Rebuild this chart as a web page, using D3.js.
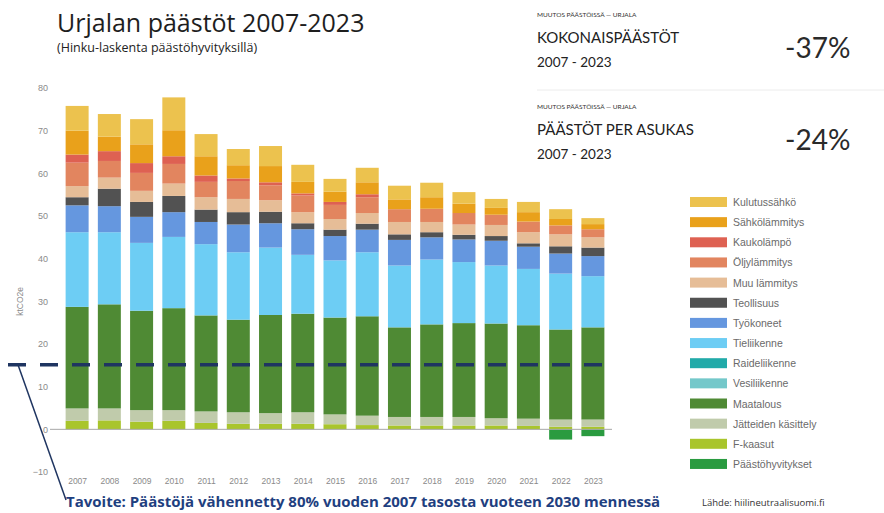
<html>
  <head>
    <meta charset="utf-8">
    <style>
      body { margin: 0; background: #fff; }
      .tick text { fill: #8a8a8a; font-family: "Liberation Sans", Arial, sans-serif; font-size: 9px; }
    </style>
  </head>
  <body>
    <script src="https://cdn.jsdelivr.net/npm/d3@7"></script>
    <script>
    var width = 884, height = 513;

    // data (ktCO2e)
    var years = [2007, 2008, 2009, 2010, 2011, 2012, 2013, 2014, 2015, 2016, 2017, 2018, 2019, 2020, 2021, 2022, 2023];
    var fkaasut      = [2.0, 2.1, 1.8, 2.0, 1.5, 1.3, 1.3, 1.3, 1.2, 1.0, 0.9, 0.9, 0.9, 0.9, 0.8, 0.6, 0.6];
    var jatteet      = [2.9, 2.8, 2.7, 2.5, 2.7, 2.7, 2.5, 2.7, 2.3, 2.2, 2.0, 2.0, 2.0, 1.7, 1.7, 1.7, 1.7];
    var maatalous    = [23.8, 24.4, 23.3, 23.9, 22.5, 21.7, 23.0, 23.1, 22.7, 23.3, 21.0, 21.7, 22.0, 22.2, 21.9, 21.1, 21.6];
    var vesiliikenne = [0, 0, 0, 0, 0, 0, 0, 0, 0, 0, 0, 0, 0, 0, 0, 0, 0];
    var raideliikenne= [0, 0, 0, 0, 0, 0, 0, 0, 0, 0, 0, 0, 0, 0, 0, 0, 0];
    var tieliikenne  = [17.5, 16.9, 15.9, 16.7, 16.7, 15.8, 15.8, 13.8, 13.4, 15.0, 14.5, 15.2, 14.3, 13.6, 13.2, 13.1, 12.0];
    var tyokoneet    = [6.3, 6.1, 6.1, 5.8, 5.2, 6.5, 5.7, 6.0, 5.7, 5.3, 6.0, 5.2, 5.3, 5.8, 5.2, 4.7, 4.7];
    var teollisuus   = [1.9, 4.1, 3.5, 3.8, 2.9, 2.9, 2.7, 1.4, 1.5, 1.4, 1.3, 1.2, 1.1, 1.1, 0.8, 1.7, 2.0];
    var muulammitys  = [2.6, 2.6, 2.6, 2.9, 2.9, 3.1, 2.7, 2.6, 2.5, 2.5, 2.9, 2.4, 2.4, 2.6, 2.6, 2.8, 2.4];
    var oljylammitys = [5.5, 3.9, 4.2, 4.6, 3.6, 4.2, 3.5, 3.9, 3.3, 3.7, 3.0, 3.1, 2.7, 2.4, 2.5, 2.1, 1.9];
    var kaukolampo   = [1.9, 2.3, 2.3, 1.8, 1.5, 0.6, 0.7, 0.5, 0.7, 0.7, 0, 0, 0, 0, 0, 0, 0];
    var sahkolammitys= [5.6, 3.4, 4.4, 6.1, 4.5, 3.1, 3.8, 2.7, 2.4, 2.8, 2.3, 2.7, 2.2, 1.6, 2.2, 1.5, 1.2];
    var kulutussahko = [5.8, 5.3, 5.9, 7.7, 5.2, 3.8, 4.7, 4.0, 3.0, 3.4, 3.2, 3.4, 2.7, 2.1, 2.4, 2.3, 1.4];
    var hyvitykset   = [0, 0, 0, 0, 0, 0, 0, 0, 0, 0, 0, 0, 0, 0, 0, -2.4, -1.6];
    var yTicks = [-10, 0, 10, 20, 30, 40, 50, 60, 70, 80];

    // series, bottom to top of the stack
    var series = [
      {key: "F-kaasut", values: fkaasut, color: "#a9c52c"},
      {key: "Jätteiden käsittely", values: jatteet, color: "#c0cbab"},
      {key: "Maatalous", values: maatalous, color: "#4f8a34"},
      {key: "Vesiliikenne", values: vesiliikenne, color: "#74c8ca"},
      {key: "Raideliikenne", values: raideliikenne, color: "#21aaa9"},
      {key: "Tieliikenne", values: tieliikenne, color: "#6dcdf4"},
      {key: "Työkoneet", values: tyokoneet, color: "#6597df"},
      {key: "Teollisuus", values: teollisuus, color: "#525252"},
      {key: "Muu lämmitys", values: muulammitys, color: "#e6bd97"},
      {key: "Öljylämmitys", values: oljylammitys, color: "#e2855f"},
      {key: "Kaukolämpö", values: kaukolampo, color: "#de6152"},
      {key: "Sähkölämmitys", values: sahkolammitys, color: "#e9a11b"},
      {key: "Kulutussähkö", values: kulutussahko, color: "#ecc24e"},
      {key: "Päästöhyvitykset", values: hyvitykset, color: "#2a9b40"}
    ];
    var legendOrder = ["Kulutussähkö", "Sähkölämmitys", "Kaukolämpö", "Öljylämmitys", "Muu lämmitys", "Teollisuus",
      "Työkoneet", "Tieliikenne", "Raideliikenne", "Vesiliikenne", "Maatalous", "Jätteiden käsittely", "F-kaasut", "Päästöhyvitykset"];

    var table = years.map(function(y, i) {
      var row = {year: y};
      series.forEach(function(s) { row[s.key] = s.values[i]; });
      return row;
    });
    var colorOf = {};
    series.forEach(function(s) { colorOf[s.key] = s.color; });

    var svg = d3.select("body").append("svg")
        .attr("width", width)
        .attr("height", height);

    var x = d3.scalePoint().domain(years).range([61, 609]).padding(0.5);
    var y = d3.scaleLinear().domain([-10, 80]).range([472, 88]);
    var barW = 23;

    // titles
    svg.append("text").attr("x", 57).attr("y", 32)
        .style("font-family", "'Open Sans', sans-serif").style("font-size", "25px").style("fill", "#1e1e1e")
        .text("Urjalan päästöt 2007-2023");
    svg.append("text").attr("x", 57).attr("y", 52)
        .style("font-family", "'Open Sans', sans-serif").style("font-size", "12.5px").style("fill", "#222")
        .text("(Hinku-laskenta päästöhyvityksillä)");

    // top right key figures
    var boxes = [
      {top: 0, head: "KOKONAISPÄÄSTÖT", pct: "-37%"},
      {top: 92, head: "PÄÄSTÖT PER ASUKAS", pct: "-24%"}
    ];
    boxes.forEach(function(b) {
      var g = svg.append("g").attr("transform", "translate(537," + b.top + ")");
      g.append("text").attr("x", 0).attr("y", 17)
          .style("font-family", "Lato, sans-serif").style("font-size", "6.5px").style("fill", "#333")
          .text("MUUTOS PÄÄSTÖISSÄ — URJALA");
      g.append("text").attr("x", 0).attr("y", 43)
          .style("font-family", "Lato, sans-serif").style("font-size", "15px").style("fill", "#222")
          .text(b.head);
      g.append("text").attr("x", 0).attr("y", 67)
          .style("font-family", "Lato, sans-serif").style("font-size", "13.5px").style("fill", "#222")
          .text("2007 - 2023");
      g.append("text").attr("x", 248).attr("y", 58)
          .style("font-family", "Lato, sans-serif").style("font-size", "28px").style("font-weight", 400).style("fill", "#2a2a2a")
          .text(b.pct);
    });
    svg.append("line").attr("x1", 537).attr("x2", 884).attr("y1", 90).attr("y2", 90)
        .attr("stroke", "#ececec").attr("stroke-width", 1);

    // stacked bars
    var stack = d3.stack().keys(series.map(function(s) { return s.key; }))
        .offset(d3.stackOffsetDiverging);
    var layers = stack(table);

    svg.append("g").selectAll("g")
      .data(layers)
      .enter().append("g")
        .attr("fill", function(d) { return colorOf[d.key]; })
      .selectAll("rect")
      .data(function(d) { return d; })
      .enter().append("rect")
        .attr("x", function(d) { return x(d.data.year) - barW / 2; })
        .attr("width", barW)
        .attr("y", function(d) { return y(Math.max(d[0], d[1])); })
        .attr("height", function(d) { return Math.abs(y(d[0]) - y(d[1])); });

    // zero line
    svg.append("line").attr("x1", 50).attr("x2", 612).attr("y1", y(0)).attr("y2", y(0))
        .attr("stroke", "#a8a8a8").attr("stroke-width", 1);

    // y axis
    var yAxis = svg.append("g").attr("transform", "translate(48,0)")
        .call(d3.axisLeft(y).tickValues(yTicks).tickSize(0).tickPadding(0));
    yAxis.select(".domain").remove();

    svg.append("text")
        .attr("transform", "translate(23," + y(30) + ") rotate(-90)")
        .attr("text-anchor", "middle")
        .style("font-family", "'Liberation Sans', Arial, sans-serif").style("font-size", "8.5px").style("fill", "#8a8a8a")
        .text("ktCO2e");

    // x axis
    var xAxis = svg.append("g").attr("transform", "translate(0,478)")
        .call(d3.axisBottom(x).tickSize(0).tickPadding(0));
    xAxis.select(".domain").remove();
    xAxis.selectAll("text").attr("dy", "0.71em").style("font-size", "8.5px");

    // target: -80 % from 2007
    var total2007 = d3.sum(series, function(s) { return s.values[0]; });
    var target = total2007 * 0.2;
    svg.append("line").attr("x1", 8).attr("x2", 615).attr("y1", y(target)).attr("y2", y(target))
        .attr("stroke", "#1f3561").attr("stroke-width", 3.5).attr("stroke-dasharray", "18,14");
    svg.append("line").attr("x1", 18).attr("y1", y(target)).attr("x2", 66).attr("y2", 500)
        .attr("stroke", "#1f3561").attr("stroke-width", 1.5);

    svg.append("text").attr("x", 66).attr("y", 507)
        .style("font-family", "'Open Sans', sans-serif").style("font-size", "15px").style("font-weight", 700).style("fill", "#1f3f80")
        .text("Tavoite: Päästöjä vähennetty 80% vuoden 2007 tasosta vuoteen 2030 mennessä");
    svg.append("text").attr("x", 702).attr("y", 506)
        .style("font-family", "'Open Sans', sans-serif").style("font-size", "9.5px").style("fill", "#333")
        .text("Lähde: hiilineutraalisuomi.fi");

    // legend
    var legend = svg.append("g").selectAll("g")
      .data(legendOrder)
      .enter().append("g")
        .attr("transform", function(d, i) { return "translate(690," + (197 + i * 20.15) + ")"; });
    legend.append("rect").attr("width", 37).attr("height", 10)
        .attr("fill", function(d) { return colorOf[d]; });
    legend.append("text").attr("x", 43).attr("y", 9)
        .style("font-family", "'Liberation Sans', Arial, sans-serif").style("font-size", "10.5px").style("fill", "#6a6a6a")
        .text(function(d) { return d; });
    </script>
  </body>
</html>
